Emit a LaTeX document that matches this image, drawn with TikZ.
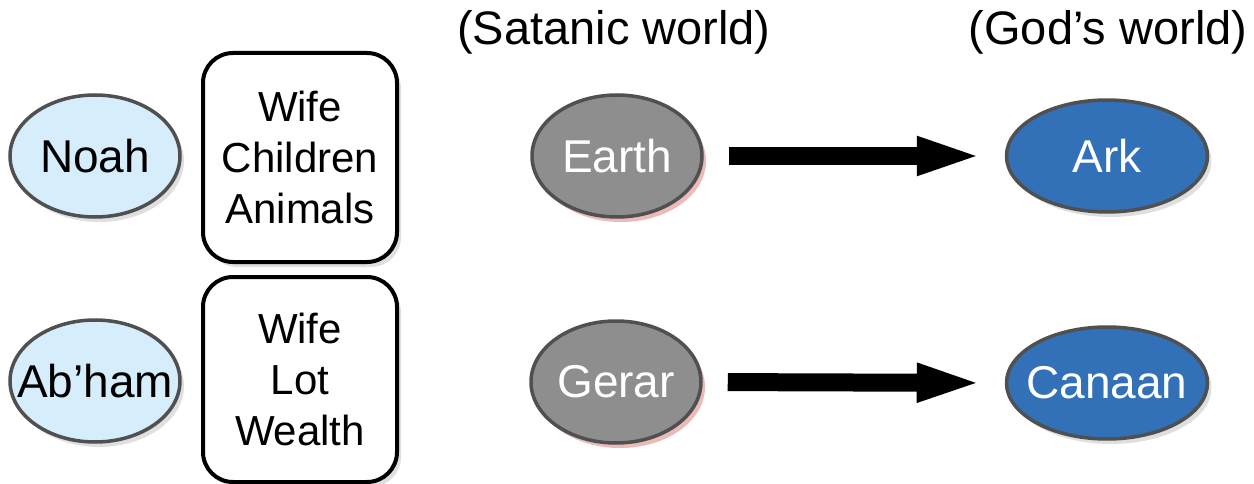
\documentclass[tikz,border=0pt]{standalone}
\usepackage{fontspec}
\setmainfont{Liberation Sans}
\usetikzlibrary{shapes.geometric,arrows.meta,shadows}
\definecolor{noahblue}{HTML}{D6EEFC}
\definecolor{earthgray}{HTML}{8E8E8E}
\definecolor{arkblue}{HTML}{3270B8}
\definecolor{rimgray}{HTML}{505050}
\begin{document}
\begin{tikzpicture}[x=1pt, y=-1pt, every node/.style={font=\fontsize{46}{52}\selectfont},
  pers/.style={ellipse,draw=rimgray,line width=3.5pt,fill=noahblue,minimum width=170pt,minimum height=122pt,inner sep=0pt,
    drop shadow={shadow xshift=4pt,shadow yshift=-5pt,opacity=0.25}},
  satw/.style={pers,fill=earthgray,drop shadow={shadow xshift=4pt,shadow yshift=-5pt,fill=red!45,opacity=0.45}},
  godw/.style={pers,fill=arkblue,minimum width=201pt,minimum height=112pt},
  lst/.style={draw,fill=white,rounded corners=30pt,line width=4pt,minimum width=194pt,align=center,inner sep=0pt,
    font=\fontsize{42}{51}\selectfont,drop shadow={shadow xshift=4pt,shadow yshift=-5pt,opacity=0.25}},
  go/.style={line width=18pt,-{Triangle[length=68pt,width=34pt]},shorten <=25pt,shorten >=20pt}]
\useasboundingbox (0,0) rectangle (1254,484);
\node[font=\fontsize{47}{52}\selectfont] (satan) at (614,32) {(Satanic world)};
\node[font=\fontsize{47}{52}\selectfont] (god) at (1108,32) {(God’s world)};
\node[pers,label=center:Noah] (noah) at (95,156) {};
\node[pers,label=center:Ab’ham] (abham) at (95,381) {};
\node[lst,minimum height=209pt] (fam1) at (300,157.5) {Wife\\Children\\Animals};
\node[lst,minimum height=205pt] (fam2) at (300,379.5) {Wife\\Lot\\Wealth};
\node[satw,label={[text=white]center:Earth}] (earth) at (617,156) {};
\node[satw,label={[text=white]center:Gerar}] (gerar) at (616,382) {};
\node[godw,label={[text=white]center:Ark}] (ark) at (1107,156) {};
\node[godw,label={[text=white]center:Canaan}] (canaan) at (1107,383) {};
\draw[go] (earth.east) -- (ark.west);
\draw[go] (gerar.east) -- (canaan.west);
\end{tikzpicture}
\end{document}
